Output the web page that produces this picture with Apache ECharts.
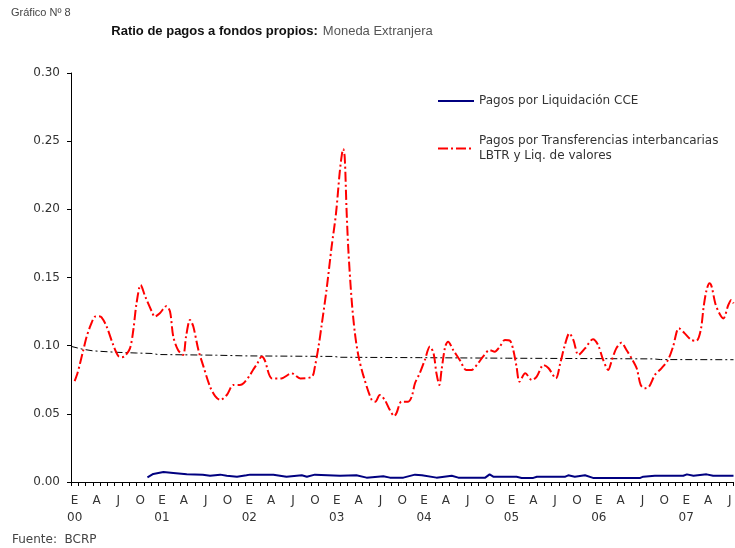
<!DOCTYPE html>
<html>
<head>
<meta charset="utf-8">
<script src="https://cdn.jsdelivr.net/npm/echarts@6/dist/echarts.min.js"></script>
<style>
  html, body { margin: 0; padding: 0; background: #fff; }
  #grafico { width: 735px; height: 548px; }
</style>
</head>
<body>
<div id="grafico"></div>
<script>
// meses: Ene 2000 .. Jul 2007
const letrasMes = ['E', 'F', 'M', 'A', 'M', 'J', 'J', 'A', 'S', 'O', 'N', 'D'];
const anios = ['00', '01', '02', '03', '04', '05', '06', '07'];
const numMeses = 91;

// [mes desde Ene-00, ratio]
const transferencias = [
  [0.5, 0.074], [0.9, 0.08], [1.24, 0.087], [1.7, 0.097], [2.15, 0.1066], [2.7, 0.115],
  [3.3, 0.1213], [3.8, 0.1215], [4.2, 0.1208], [4.9, 0.114], [5.8, 0.1005], [6.5, 0.0924],
  [7.0, 0.0915], [7.4, 0.0924], [8.1, 0.098], [8.56, 0.1115], [9.0, 0.131], [9.57, 0.1445],
  [10.2, 0.136], [11.1, 0.125], [11.5, 0.1213], [12.2, 0.1238], [13.1, 0.129], [13.6, 0.125],
  [14.05, 0.1066], [14.7, 0.0968], [15.4, 0.0932], [15.8, 0.1066], [16.35, 0.1189], [16.8, 0.114],
  [17.5, 0.0968], [18.2, 0.0846], [19.1, 0.0699], [19.8, 0.063], [20.5, 0.0602], [21.4, 0.0638],
  [22.3, 0.0712], [23.2, 0.0712], [23.7, 0.0724], [24.6, 0.0785], [25.0, 0.0822], [25.6, 0.087],
  [26.2, 0.092], [26.6, 0.0895], [27.6, 0.076], [28.9, 0.076], [30.3, 0.0797], [31.5, 0.076],
  [33.1, 0.0773], [33.5, 0.0846], [34.0, 0.0993], [34.4, 0.114], [35.1, 0.141], [35.8, 0.1726],
  [36.4, 0.197], [36.9, 0.2265], [37.2, 0.24], [37.4, 0.2443], [37.6, 0.238], [37.85, 0.1996],
  [38.1, 0.17], [38.55, 0.1335], [39.0, 0.109], [39.5, 0.092], [40.2, 0.0773], [41.3, 0.0602],
  [41.8, 0.0589], [42.4, 0.0638], [43.1, 0.0602], [43.8, 0.0528], [44.4, 0.0484], [44.7, 0.0504],
  [45.4, 0.0589], [46.3, 0.0589], [46.8, 0.0626], [47.25, 0.0724], [47.9, 0.0797], [48.6, 0.0895],
  [49.3, 0.0993], [49.8, 0.0944], [50.2, 0.0797], [50.6, 0.0712], [50.9, 0.0822], [51.4, 0.0993],
  [51.8, 0.1029], [52.5, 0.0968], [53.4, 0.0895], [54.3, 0.0822], [55.0, 0.0822], [55.9, 0.087],
  [56.6, 0.092], [57.5, 0.0968], [58.2, 0.0956], [58.9, 0.0993], [59.6, 0.1042], [60.3, 0.1036],
  [60.75, 0.0968], [61.2, 0.0846], [61.6, 0.0736], [62.4, 0.0797], [63.3, 0.0748], [63.97, 0.0773],
  [64.9, 0.0858], [65.6, 0.0834], [66.6, 0.076], [67.2, 0.087], [67.9, 0.1017], [68.45, 0.109],
  [69.0, 0.1042], [69.7, 0.0932], [70.6, 0.098], [71.7, 0.1047], [72.4, 0.1005], [73.1, 0.0895],
  [73.8, 0.0822], [74.3, 0.0895], [74.9, 0.098], [75.6, 0.1022], [76.3, 0.0968], [77.0, 0.0907],
  [77.7, 0.0834], [78.25, 0.0712], [78.8, 0.0687], [79.4, 0.0699], [80.2, 0.0785], [81.1, 0.0834],
  [82.0, 0.0895], [82.7, 0.0993], [83.5, 0.1128], [84.3, 0.109], [85.2, 0.1042], [85.9, 0.1036],
  [86.5, 0.1115], [86.9, 0.1286], [87.3, 0.1408], [87.7, 0.1458], [88.0, 0.1433], [88.5, 0.131],
  [89.05, 0.1238], [89.6, 0.12], [90.3, 0.13], [90.7, 0.1335], [91.0, 0.131]
];

const liquidacionCCE = [
  [10.5, 0.0034], [11.3, 0.0059], [12.7, 0.0073], [14.05, 0.0066], [15.9, 0.0056], [18.1, 0.0054],
  [19.1, 0.0046], [20.5, 0.0054], [21.4, 0.0046], [22.8, 0.0039], [24.1, 0.0049], [24.6, 0.0054],
  [27.8, 0.0054], [29.6, 0.0039], [31.7, 0.005], [32.4, 0.0039], [33.5, 0.0054], [36.95, 0.0045],
  [39.2, 0.005], [40.6, 0.0032], [42.9, 0.0042], [43.8, 0.0032], [45.65, 0.0032], [47.25, 0.0054],
  [48.2, 0.005], [50.2, 0.0032], [52.3, 0.0046], [53.2, 0.0032], [56.9, 0.0032], [57.5, 0.0056],
  [58.0, 0.0039], [61.2, 0.0039], [61.9, 0.003], [63.5, 0.003], [64.0, 0.0039], [67.9, 0.0039],
  [68.3, 0.0049], [69.2, 0.0039], [70.6, 0.0049], [71.7, 0.003], [78.2, 0.003], [78.6, 0.0039],
  [80.2, 0.0046], [84.1, 0.0046], [84.6, 0.0056], [85.5, 0.0046], [87.3, 0.0056], [88.2, 0.0046],
  [91.0, 0.0046]
];

// promedio (linea negra)
const promedio = [
  [0, 0.0995], [1.5, 0.0975], [3, 0.0962], [6, 0.0952], [9, 0.0946], [11, 0.0943], [12, 0.0935],
  [20, 0.093], [24, 0.0925], [36, 0.0921], [37, 0.0915], [48, 0.0912], [60, 0.0908], [72, 0.0905],
  [80, 0.0903], [81, 0.0898], [91, 0.0897]
];

const nomCCE = 'Pagos por Liquidación CCE';
const nomLBTR = 'Pagos por Transferencias interbancarias';

const categorias = [];
for (let i = 0; i < numMeses; i++) {
  const m = i % 12;
  let etiqueta = '';
  if (m % 3 === 0) etiqueta = letrasMes[m];
  if (m === 0) etiqueta += '\n' + anios[i / 12];
  categorias.push(etiqueta);
}

let myChart = echarts.init(document.getElementById('grafico'));
const option = {
  animation: false,
  backgroundColor: '#fff',
  title: [
    {
      text: '{a|Ratio de pagos a fondos propios:} {b|Moneda Extranjera}',
      left: 272,
      top: 22,
      padding: 0,
      textAlign: 'center',
      textStyle: {
        rich: {
          a: { fontFamily: 'Liberation Sans', fontSize: 13, fontWeight: 'bold', color: '#111' },
          b: { fontFamily: 'Liberation Sans', fontSize: 13, fontWeight: 'normal', color: '#555' }
        }
      }
    },
    {
      text: 'Gráfico Nº 8',
      left: 11,
      top: 7,
      padding: 0,
      textStyle: { fontFamily: 'Liberation Sans', fontSize: 11, fontWeight: 'normal', color: '#444' }
    },
    {
      text: 'Fuente:  BCRP',
      left: 12,
      top: 534,
      padding: 0,
      textStyle: { fontFamily: 'DejaVu Sans', fontSize: 12, fontWeight: 'normal', color: '#444' }
    }
  ],
  legend: [
    {
      data: [nomCCE],
      left: 432,
      top: 90,
      orient: 'vertical',
      itemWidth: 36,
      itemHeight: 14,
      itemStyle: { opacity: 0 },
      textStyle: { fontFamily: 'DejaVu Sans', fontSize: 12, color: '#333' }
    },
    {
      data: [nomLBTR],
      left: 432,
      top: 121,
      orient: 'vertical',
      itemWidth: 36,
      itemHeight: 14,
      itemStyle: { opacity: 0 },
      formatter: function (n) { return n + '\nLBTR y Liq. de valores'; },
      textStyle: {
        fontFamily: 'DejaVu Sans', fontSize: 12, color: '#333',
        lineHeight: 15, padding: [15, 0, 0, 0]
      }
    }
  ],
  grid: { left: 71, right: 1.5, top: 73, bottom: 66 },
  xAxis: [
    {
      type: 'category',
      data: categorias,
      boundaryGap: true,
      axisLine: { lineStyle: { color: '#000', width: 1 } },
      axisTick: { show: true, interval: 0, length: 4, lineStyle: { color: '#000' } },
      axisLabel: {
        interval: 0,
        margin: 10,
        lineHeight: 17,
        fontFamily: 'DejaVu Sans',
        fontSize: 12,
        color: '#333'
      },
      splitLine: { show: false }
    },
    {
      type: 'value',
      min: 0,
      max: numMeses,
      show: false,
      splitLine: { show: false }
    }
  ],
  yAxis: {
    type: 'value',
    min: 0,
    max: 0.3,
    interval: 0.05,
    axisLine: { show: true, lineStyle: { color: '#000', width: 1 } },
    axisTick: { show: true, length: 4, lineStyle: { color: '#000' } },
    axisLabel: {
      margin: 11,
      fontFamily: 'DejaVu Sans',
      fontSize: 12,
      color: '#333',
      formatter: function (v) { return v.toFixed(2); }
    },
    splitLine: { show: false }
  },
  series: [
    {
      name: 'Promedio',
      type: 'line',
      xAxisIndex: 1,
      data: promedio,
      symbol: 'none',
      lineStyle: { color: '#000', width: 1, type: [7, 3, 2, 3] },
      silent: true
    },
    {
      name: nomCCE,
      type: 'line',
      xAxisIndex: 1,
      data: liquidacionCCE,
      symbol: 'none',
      color: '#000080',
      lineStyle: { color: '#000080', width: 2 }
    },
    {
      name: nomLBTR,
      type: 'line',
      xAxisIndex: 1,
      data: transferencias,
      symbol: 'none',
      smooth: 0.3,
      color: '#ff0000',
      lineStyle: { color: '#ff0000', width: 2, type: [10, 3, 2, 3] }
    }
  ]
};
myChart.setOption(option);
</script>
</body>
</html>
